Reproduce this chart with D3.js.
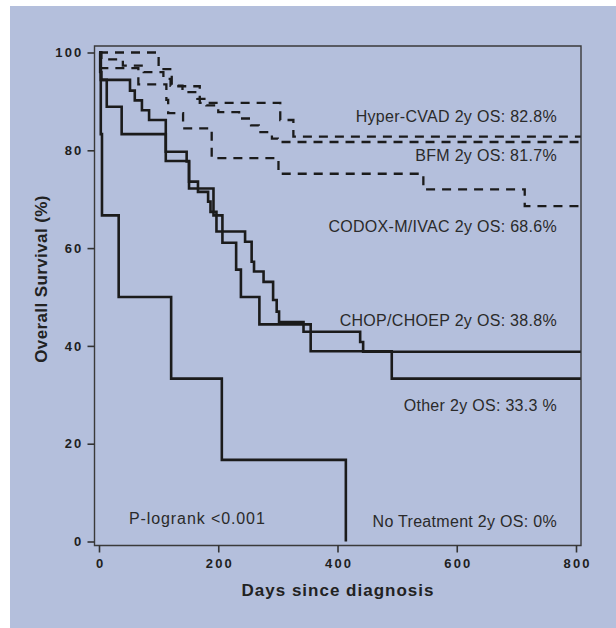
<!DOCTYPE html>
<html>
<head>
<meta charset="utf-8">
<script src="https://cdn.jsdelivr.net/npm/d3@7"></script>
<style>
  body { margin: 0; background: #fff; }
  svg { display: block; font-family: "Liberation Sans", Arial, Helvetica, sans-serif; }
</style>
</head>
<body>
<div id="chart"></div>
<script>
// Kaplan-Meier curves (days, survival %)
var hyperDays = [0, 100, 122, 169, 304, 326, 808];
var hyperSurv = [100, 96.6, 93.1, 89.7, 86.2, 82.8, 82.8];

var bfmDays = [0, 4, 40, 75, 108, 120, 140, 165, 180, 200, 235, 255, 268, 290, 300, 808];
var bfmSurv = [100, 98.6, 97.3, 96.0, 94.6, 93.2, 91.9, 90.5, 89.2, 87.8, 86.5, 85.1, 83.7, 82.4, 81.7, 81.7];

var codoxDays = [0, 3, 66, 113, 116, 141, 189, 301, 544, 714, 808];
var codoxSurv = [100, 96.8, 93.5, 90.3, 87.6, 84.5, 78.4, 75.2, 72.0, 68.6, 68.6];

var chopDays = [0, 2, 4, 52, 60, 72, 84, 112, 147, 151, 166, 183, 187, 197, 245, 256, 260, 276, 292, 298, 302, 343, 438, 443, 808];
var chopSurv = [100, 96.0, 94.4, 92.2, 90.2, 88.2, 86.2, 79.7, 77.7, 73.6, 71.5, 69.5, 67.4, 63.4, 61.3, 57.2, 55.2, 53.1, 49.4, 47.0, 44.9, 42.9, 40.8, 38.8, 38.8];

var otherDays = [0, 3, 13, 38, 112, 151, 192, 207, 230, 238, 269, 355, 491, 808];
var otherSurv = [100, 94.4, 88.9, 83.3, 77.8, 72.2, 66.7, 61.1, 55.6, 50.0, 44.4, 38.9, 33.3, 33.3];

var noTxDays = [0, 3, 5, 33, 121, 206, 414];
var noTxSurv = [100, 83.3, 66.7, 50.0, 33.3, 16.7, 0];

var groupLabels = [
  "Hyper-CVAD 2y OS: 82.8%",
  "BFM 2y OS: 81.7%",
  "CODOX-M/IVAC 2y OS: 68.6%",
  "CHOP/CHOEP 2y OS: 38.8%",
  "Other 2y OS: 33.3 %",
  "No Treatment 2y OS: 0%"
];

var xTicks = [0, 200, 400, 600, 800];
var yTicks = [0, 20, 40, 60, 80, 100];

// layout
var W = 616, H = 628;
var labelBaselines = [122, 161, 232, 326, 411, 527];

var svg = d3.select("#chart").append("svg")
    .attr("width", W)
    .attr("height", H);

svg.append("rect")
    .attr("x", 10).attr("y", 6)
    .attr("width", W - 10).attr("height", H - 6)
    .attr("fill", "#b4bfdc");

var x = d3.scaleLinear().domain([0, 800]).range([99, 576]);
var y = d3.scaleLinear().domain([0, 100]).range([541.5, 52.5]);

var frame = { left: 94.5, right: 581, top: 46, bottom: 545.5 };

// frame
svg.append("path")
    .attr("d", "M" + frame.left + "," + frame.top + "H" + frame.right + "V" + frame.bottom + "H" + frame.left + "Z")
    .attr("fill", "none")
    .attr("stroke", "#3a3a3a")
    .attr("stroke-width", 1.4);

// axes
var yAxis = svg.append("g")
    .attr("transform", "translate(" + frame.left + ",0)")
    .call(d3.axisLeft(y).tickValues(yTicks).tickSize(7).tickPadding(4));
var xAxis = svg.append("g")
    .attr("transform", "translate(0," + frame.bottom + ")")
    .call(d3.axisBottom(x).tickValues(xTicks).tickSize(7).tickPadding(6));

[xAxis, yAxis].forEach(function(g) {
    g.select(".domain").remove();
    g.selectAll(".tick line").attr("stroke", "#333").attr("stroke-width", 1.6);
    g.selectAll(".tick text")
        .attr("fill", "#1e1e1e")
        .style("font-size", "13px")
        .style("font-weight", "bold")
        .style("letter-spacing", "2.2px")
        .style("font-family", "'Liberation Sans', Arial, sans-serif");
});
xAxis.selectAll(".tick text").attr("dx", 1.1);

// curves
var line = d3.line()
    .x(function(d) { return x(d[0]); })
    .y(function(d) { return y(d[1]); })
    .curve(d3.curveStepAfter);

var curves = [
  { days: hyperDays, surv: hyperSurv, dashed: true },
  { days: bfmDays, surv: bfmSurv, dashed: true },
  { days: codoxDays, surv: codoxSurv, dashed: true },
  { days: chopDays, surv: chopSurv, dashed: false },
  { days: otherDays, surv: otherSurv, dashed: false },
  { days: noTxDays, surv: noTxSurv, dashed: false }
];

curves.forEach(function(c) {
    var pts = c.days.map(function(d, i) { return [d, c.surv[i]]; });
    svg.append("path")
        .datum(pts)
        .attr("d", line)
        .attr("fill", "none")
        .attr("stroke", "#1b1b1b")
        .attr("stroke-width", c.dashed ? 2.3 : 2.6)
        .attr("stroke-dasharray", c.dashed ? "9,7" : null);
});

// group labels
svg.selectAll("text.grp")
    .data(groupLabels)
    .enter().append("text")
    .attr("class", "grp")
    .attr("x", 557)
    .attr("y", function(d, i) { return labelBaselines[i]; })
    .attr("text-anchor", "end")
    .attr("fill", "#2a2a2a")
    .style("font-size", "16px")
    .style("letter-spacing", "0.3px")
    .text(function(d) { return d; });

svg.append("text")
    .attr("x", 129).attr("y", 524)
    .attr("fill", "#2a2a2a")
    .style("font-size", "16px")
    .style("letter-spacing", "0.9px")
    .text("P-logrank <0.001");

// axis titles
svg.append("text")
    .attr("x", 338).attr("y", 596)
    .attr("text-anchor", "middle")
    .attr("fill", "#222")
    .style("font-size", "17px")
    .style("font-weight", "bold")
    .style("letter-spacing", "1px")
    .text("Days since diagnosis");

svg.append("text")
    .attr("transform", "translate(46.5,279) rotate(-90)")
    .attr("text-anchor", "middle")
    .attr("fill", "#222")
    .style("font-size", "17px")
    .style("font-weight", "bold")
    .style("letter-spacing", "0.4px")
    .text("Overall Survival (%)");
</script>
</body>
</html>
